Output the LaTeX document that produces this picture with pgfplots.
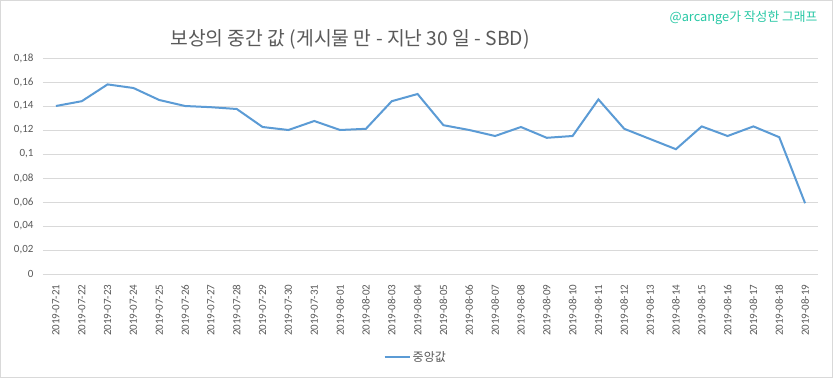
\documentclass[border=0pt]{standalone}
\usepackage{pgfplots}
\pgfplotsset{compat=1.18}
\usepackage{fontspec}
\setmainfont{Carlito}
\newfontfamily\kr{Noto Sans CJK KR}
\definecolor{serie}{RGB}{91,155,213}
\definecolor{txt}{RGB}{89,89,89}
\definecolor{gridc}{RGB}{217,217,217}
\definecolor{wm}{RGB}{40,200,165}
\pgfplotstableread{
x y
0 0.140
1 0.144
2 0.158
3 0.155
4 0.145
5 0.140
6 0.139
7 0.1375
8 0.1225
9 0.120
10 0.1275
11 0.120
12 0.121
13 0.144
14 0.150
15 0.124
16 0.120
17 0.115
18 0.1225
19 0.1135
20 0.115
21 0.1455
22 0.121
23 0.1125
24 0.104
25 0.123
26 0.115
27 0.123
28 0.114
29 0.059
}\datatable
\begin{document}
\begin{tikzpicture}[x=1pt,y=1pt]
\fill[white] (0,0) rectangle (833,378);
\draw[gray!30] (0.5,0.5) rectangle (832.5,377.5);
\begin{axis}[
  at={(43pt,104pt)}, anchor=south west,
  scale only axis, width=775pt, height=216pt,
  xmin=-0.5, xmax=29.5, ymin=0, ymax=0.18,
  ytick={0,0.02,0.04,0.06,0.08,0.1,0.12,0.14,0.16,0.18},
  yticklabels={0,{0,02},{0,04},{0,06},{0,08},{0,1},{0,12},{0,14},{0,16},{0,18}},
  xtick={0,...,29},
  xticklabels={2019-07-21,2019-07-22,2019-07-23,2019-07-24,2019-07-25,2019-07-26,2019-07-27,2019-07-28,2019-07-29,2019-07-30,2019-07-31,2019-08-01,2019-08-02,2019-08-03,2019-08-04,2019-08-05,2019-08-06,2019-08-07,2019-08-08,2019-08-09,2019-08-10,2019-08-11,2019-08-12,2019-08-13,2019-08-14,2019-08-15,2019-08-16,2019-08-17,2019-08-18,2019-08-19},
  x tick label style={rotate=90, anchor=east, font=\fontsize{11}{12}\selectfont, text=txt},
  y tick label style={font=\fontsize{11}{12}\selectfont, text=txt},
  major tick length=0pt,
  xtick style={draw=none}, ytick style={draw=none},
  axis line style={draw=none},
  ymajorgrids, grid style={gridc, line width=0.9pt},
  xticklabel shift=7pt, yticklabel shift=6pt,
  legend style={at={(axis description cs:0.481,-0.384)}, anchor=center, draw=none, fill=none,
    font=\kr\fontsize{12}{14}\selectfont, text=txt},
  legend image code/.code={\draw[#1, line width=2pt] (0pt,0pt) -- (25pt,0pt);},
  legend cell align=left,
  clip=false,
]
\addplot[serie, line width=2pt, mark=none] table[x=x,y=y] {\datatable};
\addlegendentry{중앙값}
\end{axis}
\node[text=txt, font=\kr\fontsize{19.3}{22}\selectfont] at (350,339) {보상의 중간 값 (게시물 만 - 지난 30 일 - SBD)};
\node[text=wm, font=\kr\fontsize{12.8}{15}\selectfont, anchor=east] at (821,360) {@arcange가 작성한 그래프};
\end{tikzpicture}
\end{document}
